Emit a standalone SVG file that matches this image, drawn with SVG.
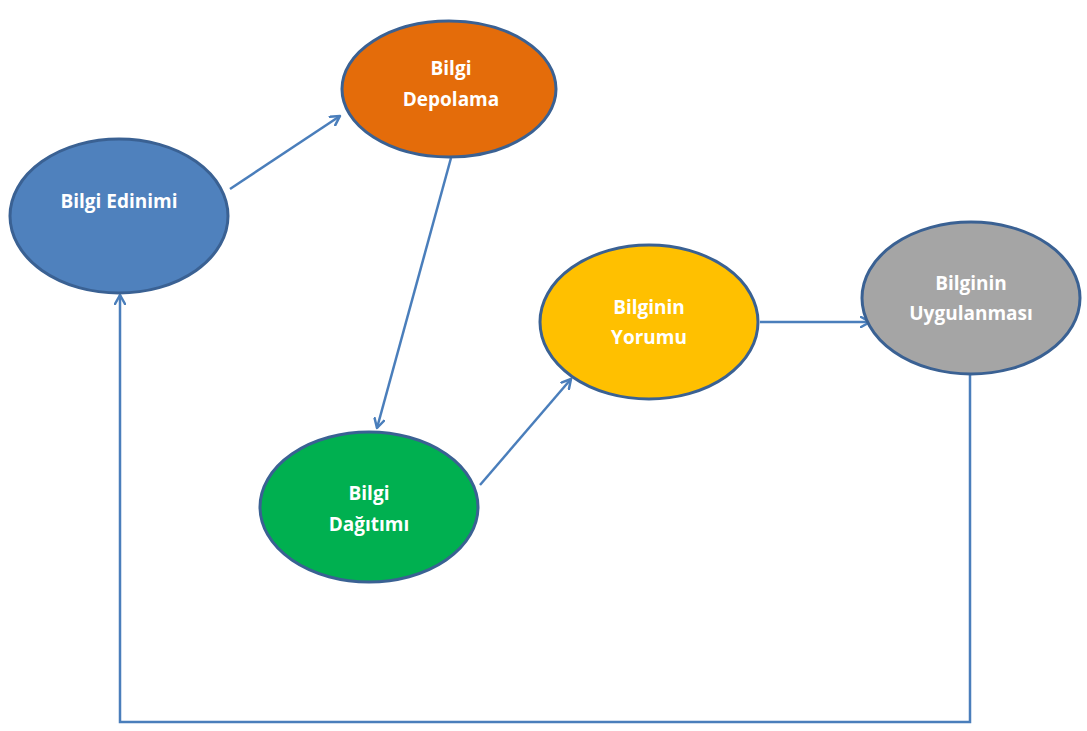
<svg xmlns="http://www.w3.org/2000/svg" width="1087" height="731" viewBox="0 0 1087 731">
<style>
.n{stroke:#3A6193;stroke-width:3}
.t{font-family:"Open Sans","Liberation Sans",sans-serif;font-weight:bold;font-size:19px;fill:#fff;text-anchor:middle;dominant-baseline:central}
.c{fill:none;stroke:#4A7EBB;stroke-width:2.5}
</style>
<defs>
<marker id="a" viewBox="0 0 12 12" refX="10" refY="6" markerWidth="12" markerHeight="12" markerUnits="userSpaceOnUse" orient="auto">
<path d="M1,1 L10,6 L1,11" fill="none" stroke="#4A7EBB" stroke-width="2.5" stroke-linecap="round" stroke-linejoin="round"/>
</marker>
</defs>
<rect width="1087" height="731" fill="#fff"/>
<g id="connectors">
<line class="c" x1="230" y1="189" x2="340" y2="116" marker-end="url(#a)"/>
<line class="c" x1="451" y1="158" x2="377" y2="428" marker-end="url(#a)"/>
<line class="c" x1="480" y1="485" x2="571" y2="379" marker-end="url(#a)"/>
<line class="c" x1="760" y1="322" x2="870" y2="322" marker-end="url(#a)"/>
<polyline class="c" points="970,375 970,722 120,722 120,295" marker-end="url(#a)"/>
</g>
<g id="n1"><ellipse class="n" cx="119" cy="216" rx="109" ry="77" fill="#4F81BD"/><text class="t" x="119" y="201">Bilgi Edinimi</text></g>
<g id="n2"><ellipse class="n" cx="449" cy="89" rx="107" ry="68" fill="#E46C0A"/><text class="t" x="451" y="68">Bilgi</text><text class="t" x="451" y="99">Depolama</text></g>
<g id="n3"><ellipse class="n" cx="369" cy="507" rx="109" ry="75" fill="#00B050"/><text class="t" x="369" y="493">Bilgi</text><text class="t" x="369" y="524">Dağıtımı</text></g>
<g id="n4"><ellipse class="n" cx="649" cy="322" rx="109" ry="77" fill="#FFC000"/><text class="t" x="649" y="307">Bilginin</text><text class="t" x="649" y="337">Yorumu</text></g>
<g id="n5"><ellipse class="n" cx="971" cy="298" rx="109" ry="76" fill="#A5A5A5"/><text class="t" x="971" y="283">Bilginin</text><text class="t" x="971" y="313">Uygulanması</text></g>
</svg>
